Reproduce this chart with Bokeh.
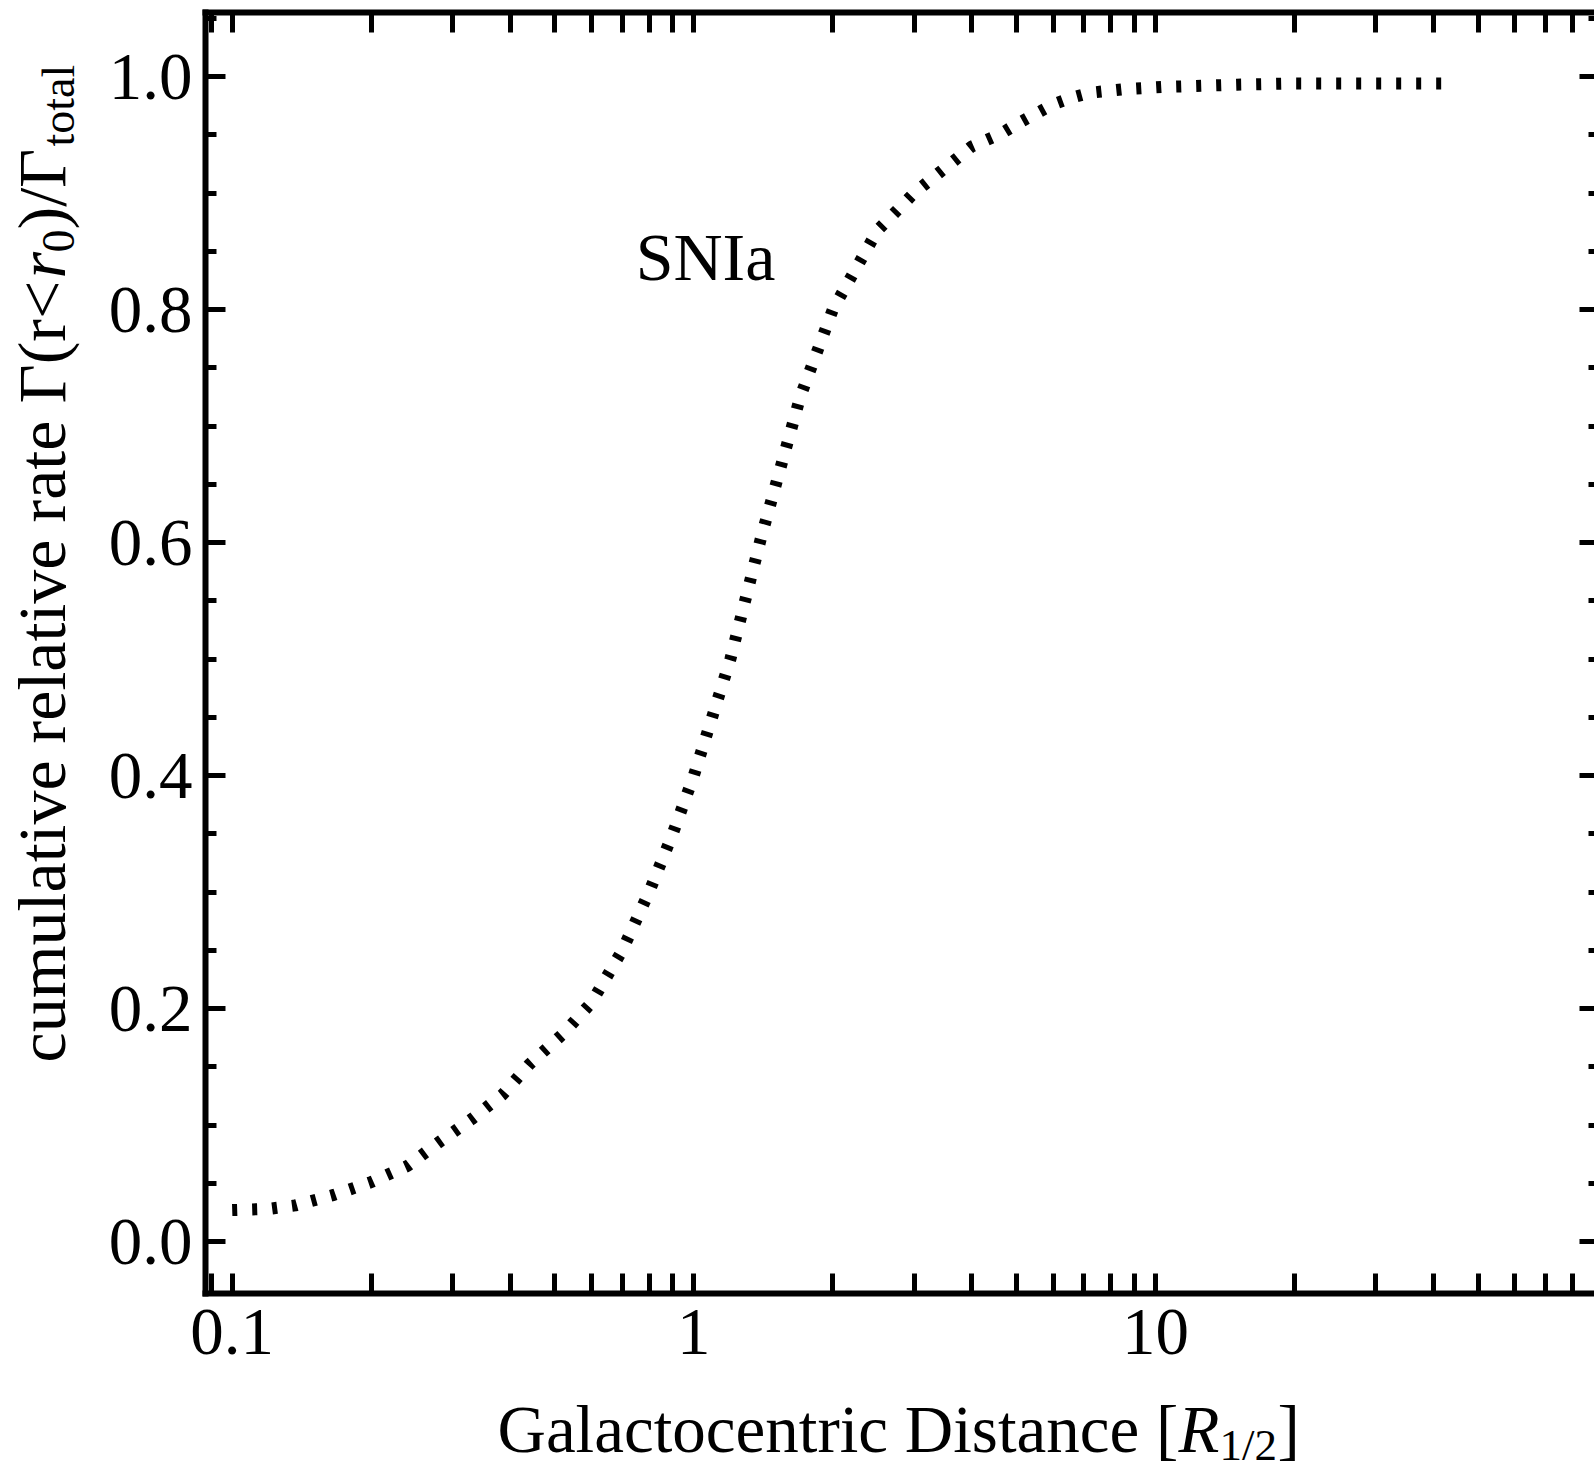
import math
from bokeh.plotting import figure
from bokeh.models import (Range1d, FixedTicker, LogAxis, LinearAxis, Label,
                          CustomJSTickFormatter, PrintfTickFormatter)
from bokeh.embed import file_html
from bokeh.resources import INLINE

# ---------------- data ----------------
distance = [0.100, 0.120, 0.137, 0.166, 0.200, 0.240, 0.280, 0.330, 0.385, 0.440,
            0.520, 0.600, 0.700, 0.800, 0.900, 1.000, 1.200, 1.400, 1.700, 2.000,
            2.500, 3.000, 4.000, 4.630, 5.000, 5.500, 6.000, 6.600, 7.200, 8.500,
            10.35, 15.00, 20.00, 30.00, 43.00]
cumulative_rate = [0.027, 0.028, 0.031, 0.040, 0.051, 0.065, 0.085, 0.105, 0.126, 0.152,
                   0.178, 0.205, 0.250, 0.300, 0.350, 0.400, 0.500, 0.605, 0.725, 0.800,
                   0.868, 0.900, 0.940, 0.951, 0.959, 0.968, 0.976, 0.982, 0.986, 0.989,
                   0.991, 0.993, 0.994, 0.994, 0.994]

x_major = [0.1, 1, 10]
x_major_labels = ["0.1", "1", "10"]
x_minor = [0.09, 0.2, 0.3, 0.4, 0.5, 0.6, 0.7, 0.8, 0.9,
           2, 3, 4, 5, 6, 7, 8, 9, 20, 30, 40, 50, 60, 70, 80, 90]
y_major = [0.0, 0.2, 0.4, 0.6, 0.8, 1.0]
y_minor = [0.05, 0.1, 0.15, 0.25, 0.3, 0.35, 0.45, 0.5, 0.55,
           0.65, 0.7, 0.75, 0.85, 0.9, 0.95, 1.05]
series_label = "SNIa"

# ---------------- layout constants ----------------
FONT = "Liberation Serif"
TICK_FS = "67px"
W, H = 1594, 1472
DEC = 461.65                 # px per decade
LOG0 = -1.50190              # log10(x) at canvas left edge
YPX = 1165.0                 # px per y unit
YTOP = 1.06524               # y at canvas top edge
BASE_FIX = 0.30              # baseline correction for Label text (em)

x_start = 10 ** LOG0
x_end = 10 ** (LOG0 + W / DEC)
y_end = YTOP
y_start = YTOP - H / YPX

box_left = 10 ** (LOG0 + 205 / DEC)    # visual frame (Mathematica frame)
box_top = YTOP - 12 / YPX
box_bottom = YTOP - 1293 / YPX

p = figure(width=W, height=H, x_axis_type="log",
           x_range=Range1d(x_start, x_end), y_range=Range1d(y_start, y_end),
           output_backend="svg", toolbar_location=None,
           min_border_left=0, min_border_right=0, min_border_top=0,
           min_border_bottom=0)
p.outline_line_color = None
p.grid.visible = False
p.background_fill_color = "white"
p.border_fill_color = "white"


def style_axis(ax, tin, minor_in, lw=5):
    ax.axis_line_width = 6
    ax.axis_line_color = "black"
    ax.axis_line_cap = "square"
    ax.major_tick_in = tin
    ax.major_tick_out = 0
    ax.minor_tick_in = minor_in
    ax.minor_tick_out = 0
    ax.major_tick_line_width = lw
    ax.minor_tick_line_width = lw
    ax.major_tick_line_color = "black"
    ax.minor_tick_line_color = "black"
    ax.major_label_text_font = FONT
    ax.major_label_text_font_size = TICK_FS
    ax.major_label_text_color = "black"


xfmt = CustomJSTickFormatter(args=dict(vals=x_major, labs=x_major_labels),
                             code="const i = vals.indexOf(tick); return i >= 0 ? labs[i] : '';")
empty = CustomJSTickFormatter(code="return '';")

xb = p.xaxis[0]
xb.ticker = FixedTicker(ticks=x_major, minor_ticks=x_minor)
xb.formatter = xfmt
style_axis(xb, 20, 20)
xb.major_label_standoff = 16
xb.fixed_location = box_bottom
xb.bounds = (box_left, x_end)

yl = p.yaxis[0]
yl.ticker = FixedTicker(ticks=y_major, minor_ticks=y_minor)
yl.formatter = PrintfTickFormatter(format="%.1f")
style_axis(yl, 20, 11)
yl.major_label_standoff = 13
yl.fixed_location = box_left
yl.bounds = (box_bottom, box_top)

xt = LogAxis(ticker=FixedTicker(ticks=x_major, minor_ticks=x_minor), formatter=empty)
style_axis(xt, 20, 20)
xt.major_label_text_font_size = "0px"
xt.major_label_standoff = 0
xt.fixed_location = box_top
xt.bounds = (box_left, x_end)
p.add_layout(xt, "above")

yr = LinearAxis(ticker=FixedTicker(ticks=y_major, minor_ticks=y_minor), formatter=empty)
style_axis(yr, 15, 6)
yr.axis_line_color = None
yr.major_label_text_font_size = "0px"
yr.major_label_standoff = 0
yr.fixed_location = x_end
yr.bounds = (box_bottom, box_top)
p.add_layout(yr, "right")

# curve: short strokes perpendicular to the path
p.line(distance, cumulative_rate, line_width=12, line_dash="5 15",
       line_cap="butt", line_color="black")

p.add_layout(Label(x=1.06, y=0.828, y_offset=round(BASE_FIX * 68), text=series_label,
                   text_align="center", text_baseline="alphabetic", text_font=FONT,
                   text_font_size="68px", text_color="black"))


# ---------------- axis titles (screen px; frame == canvas) ----------------
def add_text(px, py, txt, size, style="normal", rotated=False):
    fix = BASE_FIX * size
    if rotated:
        px -= fix
    else:
        py -= fix
    p.add_layout(Label(x=px, y=H - py, x_units="screen", y_units="screen", text=txt,
                       angle=math.pi / 2 if rotated else 0.0,
                       text_align="left", text_baseline="alphabetic",
                       text_font=FONT, text_font_size=f"{size}px",
                       text_font_style=style, text_color="black"))


# x title: baseline y=1449, start x=497
XB, XS = 1449, 497
add_text(XS, XB, "Galactocentric Distance [", 67)
add_text(XS + 681, XB, "R", 67, "italic")
add_text(XS + 722, XB + 9, "1/2", 45)
add_text(XS + 780, XB, "]", 67)

# y title: rotated, baseline x=62, starts at y=1062 going up
YB, YS = 62, 1062
add_text(YB, YS, "cumulative relative rate \u0393(r<", 68, rotated=True)
add_text(YB, YS - 784, "r", 68, "italic", rotated=True)
add_text(YB + 10, YS - 810, "0", 46, rotated=True)
add_text(YB, YS - 833, ")/\u0393", 68, rotated=True)
add_text(YB + 10, YS - 916, "total", 46, rotated=True)

open("out.html", "w").write(file_html(p, INLINE))
